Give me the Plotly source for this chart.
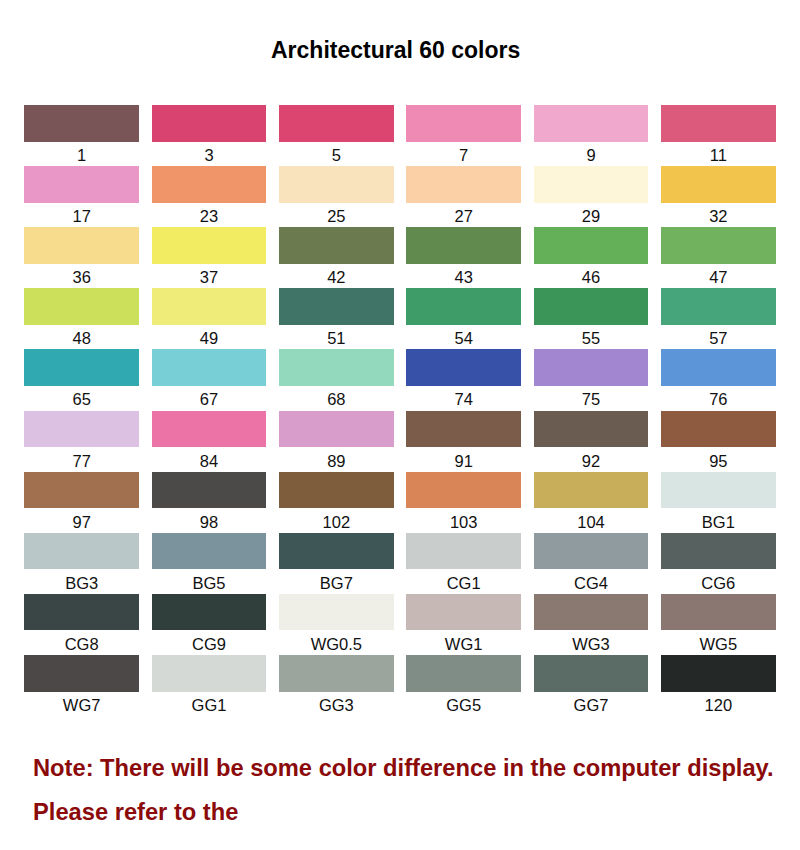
import plotly.graph_objects as go

# ---- data ----
labels = [
    ["1", "3", "5", "7", "9", "11"],
    ["17", "23", "25", "27", "29", "32"],
    ["36", "37", "42", "43", "46", "47"],
    ["48", "49", "51", "54", "55", "57"],
    ["65", "67", "68", "74", "75", "76"],
    ["77", "84", "89", "91", "92", "95"],
    ["97", "98", "102", "103", "104", "BG1"],
    ["BG3", "BG5", "BG7", "CG1", "CG4", "CG6"],
    ["CG8", "CG9", "WG0.5", "WG1", "WG3", "WG5"],
    ["WG7", "GG1", "GG3", "GG5", "GG7", "120"],
]
colors = [
    ["#7a5558", "#d9436f", "#dd4571", "#ef8ab5", "#f0a9cc", "#dc5a7c"],
    ["#e897c6", "#f0956a", "#f8e3bc", "#fbd0a6", "#fdf6d8", "#f2c44b"],
    ["#f7dc8d", "#f1ec62", "#6b7a4f", "#608a4e", "#63b059", "#70b25d"],
    ["#cde05b", "#f0ec79", "#407466", "#3e9c69", "#3b9558", "#47a57b"],
    ["#30aab0", "#78cfd6", "#93d9be", "#3751a8", "#a286cf", "#5c96d8"],
    ["#dcc1e3", "#ec73a6", "#d99dcc", "#7b5b49", "#6b5c51", "#8e5b41"],
    ["#a0704f", "#4b4a48", "#7e5d3d", "#d98558", "#c8ad5b", "#d8e5e3"],
    ["#b9c7c9", "#7b939d", "#3f5657", "#c9cdcb", "#8f9b9f", "#566160"],
    ["#3a4645", "#303f3b", "#efefe7", "#c6b9b5", "#8a7971", "#8a7771"],
    ["#4b4847", "#d5d9d5", "#9ba59d", "#7f8d86", "#5b6b66", "#242927"],
]
title_text = "Architectural 60 colors"
note_lines = [
    "Note: There will be some color difference in the computer display.",
    "Please refer to the",
]

n_rows = len(labels)
n_cols = len(labels[0])
swatch_h = 0.6
label_off = 0.85

xs, bases, hs, cols, lx, ly, lt = [], [], [], [], [], [], []
for r in range(n_rows):
    for c in range(n_cols):
        xs.append(c)
        bases.append(r)
        hs.append(swatch_h)
        cols.append(colors[r][c])
        lx.append(c)
        ly.append(r + label_off)
        lt.append(labels[r][c])

fig = go.Figure()
fig.add_trace(go.Bar(
    x=xs, y=hs, base=bases, width=0.9,
    marker=dict(color=cols, line=dict(width=0)),
    hoverinfo="skip", showlegend=False,
))
fig.add_trace(go.Scatter(
    x=lx, y=ly, text=lt, mode="text",
    textfont=dict(family="Liberation Sans, Arial, sans-serif", size=16.5, color="#111111"),
    textposition="middle center", hoverinfo="skip", showlegend=False,
))

# page offset of 8px (browser body margin)
off = 8
W, H = 800, 850
fig.add_annotation(
    text="<b>" + title_text + "</b>", xref="paper", yref="paper",
    x=(395 - off - 10) / 764, y=1 - (50 - off) / H,
    xanchor="center", yanchor="middle", showarrow=False,
    font=dict(family="Liberation Sans, Arial, sans-serif", size=23, color="#000000"),
)
for i, line in enumerate(note_lines):
    fig.add_annotation(
        text="<b>" + line + "</b>", xref="paper", yref="paper",
        x=(31 - off - 10) / 764, y=1 - (768 + 44 * i - off) / H,
        xanchor="left", yanchor="middle", showarrow=False,
        font=dict(family="Liberation Sans, Arial, sans-serif", size=23.7, color="#8b0a0a"),
    )

y_top = -(105 - off) / 61.1
y_bot = (H - 105 + off) / 61.1
fig.update_layout(
    width=W, height=H,
    margin=dict(l=10, r=26, t=0, b=0),
    paper_bgcolor="white", plot_bgcolor="white",
    bargap=0,
    xaxis=dict(range=[-0.5, n_cols - 0.5], visible=False, fixedrange=True),
    yaxis=dict(range=[y_bot, y_top], visible=False, fixedrange=True),
)
fig.write_html("out.html")
